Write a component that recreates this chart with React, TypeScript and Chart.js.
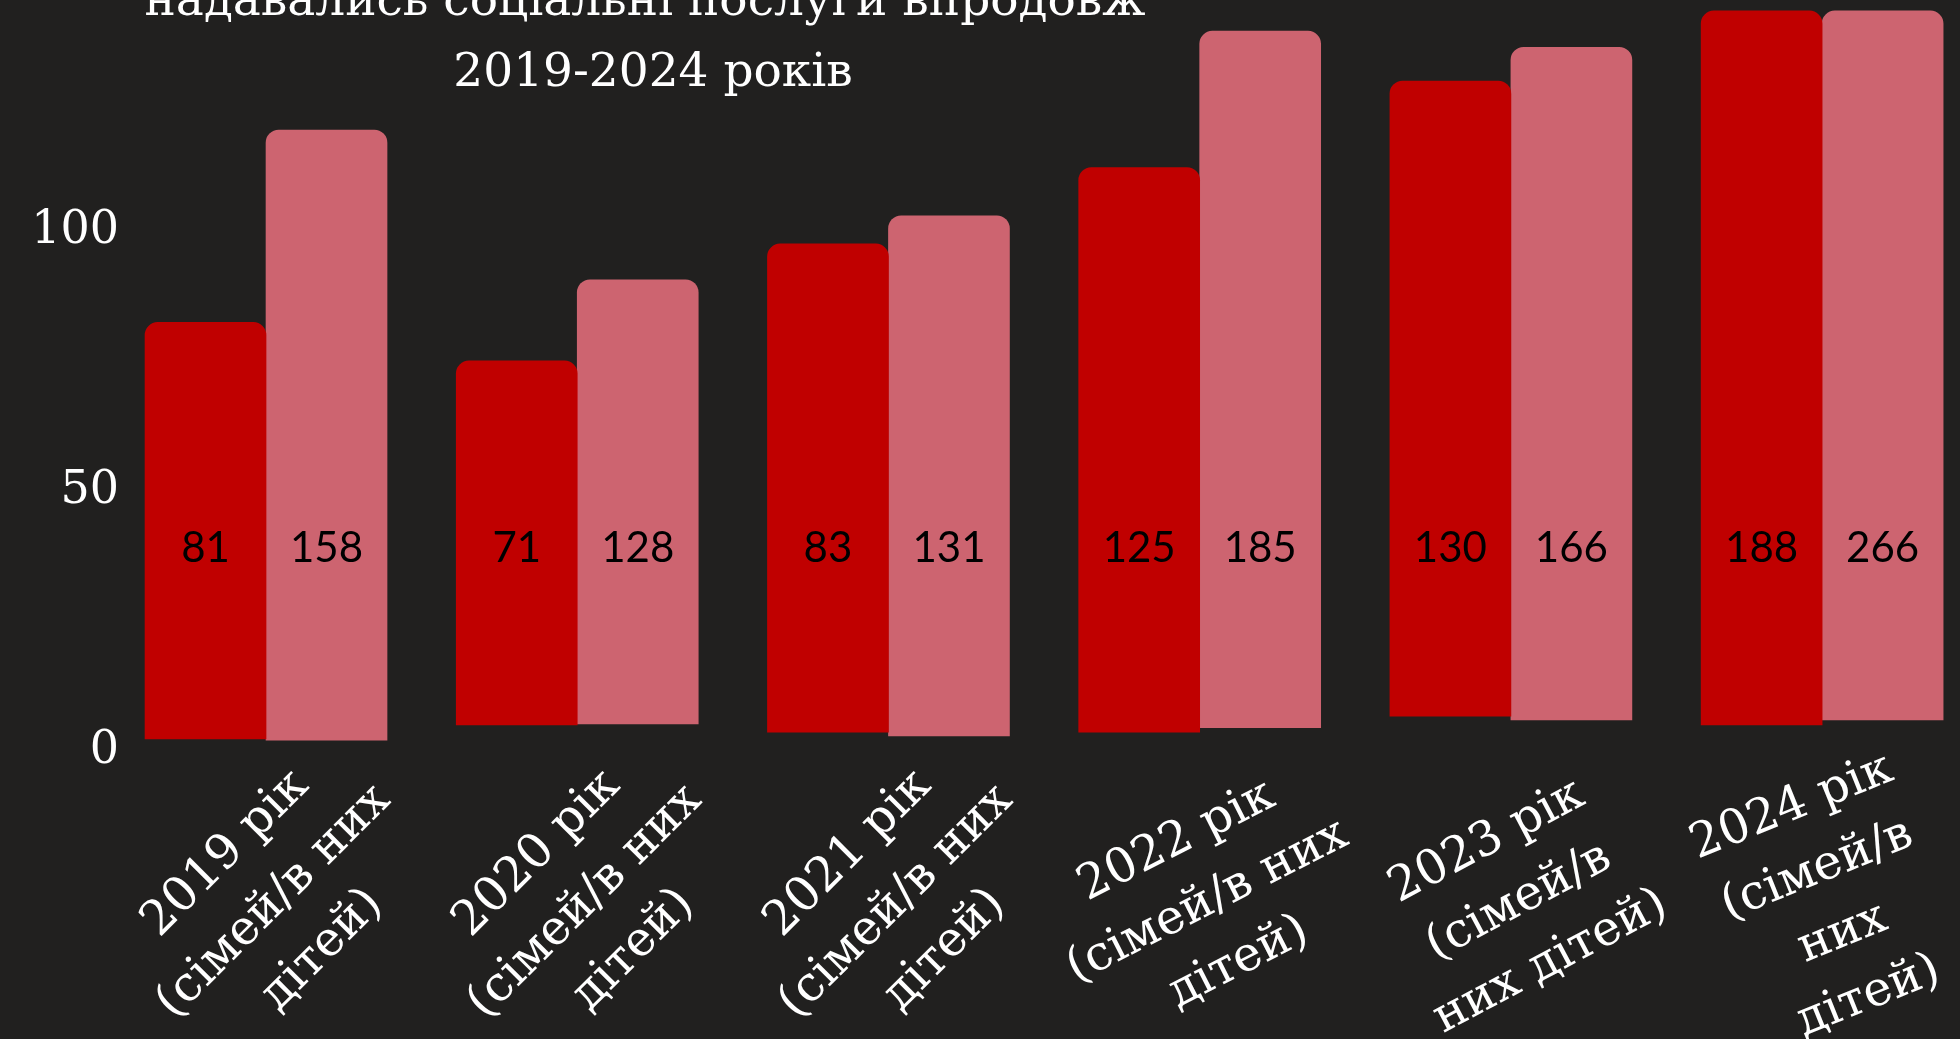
import React, { useEffect, useRef } from "react";
import { Chart, registerables } from "chart.js";

Chart.register(...registerables);

// ---- data ----
const years = ["2019", "2020", "2021", "2022", "2023", "2024"];
const categoryLabels: string[][] = [
  ["2019 рік", "(сімей/в них", "дітей)"],
  ["2020 рік", "(сімей/в них", "дітей)"],
  ["2021 рік", "(сімей/в них", "дітей)"],
  ["2022 рік", "(сімей/в них", "дітей)"],
  ["2023 рік", "(сімей/в", "них дітей)"],
  ["2024 рік", "(сімей/в", "них", "дітей)"],
];
// bar extents as drawn in the picture (axis units)
const familiesTop = [82.4, 75.0, 97.5, 112.2, 128.8, 142.3];
const familiesBottom = [2.3, 5.0, 3.6, 3.6, 6.7, 5.0];
const childrenTop = [119.4, 90.6, 102.9, 138.4, 135.3, 142.3];
const childrenBottom = [2.1, 5.2, 2.9, 4.5, 6.0, 6.0];
// numbers written on the bars
const familiesValues = [81, 71, 83, 125, 130, 188];
const childrenValues = [158, 128, 131, 185, 166, 266];
const yTicks = [0, 50, 100];
const titleLines = ["надавались соціальні послуги впродовж", "2019-2024 років"];

// ---- styles ----
const BG = "#21201F";
const DARK = "#C00000";
const LIGHT = "#CD6470";
const labelAngles = [45, 45, 45, 27, 28, 22];
const SERIF = "'DejaVu Serif', serif";

const titlePlugin = {
  id: "titleText",
  afterDraw(chart: any) {
    const ctx = chart.ctx;
    ctx.save();
    ctx.fillStyle = "#FFFFFF";
    ctx.font = `47px ${SERIF}`;
    ctx.textAlign = "center";
    ctx.textBaseline = "alphabetic";
    ctx.fillText(titleLines[0], 645, 15);
    ctx.fillText(titleLines[1], 653, 86);
    ctx.restore();
  },
};

const valueLabelPlugin = {
  id: "valueLabels",
  afterDatasetsDraw(chart: any) {
    const ctx = chart.ctx;
    const yScale = chart.scales.y;
    const y = yScale.getPixelForValue(39);
    const sets = [familiesValues, childrenValues];
    ctx.save();
    ctx.fillStyle = "#000000";
    ctx.font = "42px Lato, sans-serif";
    ctx.textAlign = "center";
    ctx.textBaseline = "middle";
    sets.forEach((vals, di) => {
      const meta = chart.getDatasetMeta(di);
      meta.data.forEach((el: any, i: number) => {
        ctx.fillText(String(vals[i]), el.x, y);
      });
    });
    ctx.restore();
  },
};

const xLabelPlugin = {
  id: "xLabels",
  afterDraw(chart: any) {
    const ctx = chart.ctx;
    const xScale = chart.scales.x;
    const lineH = 68;
    ctx.save();
    ctx.fillStyle = "#FFFFFF";
    ctx.font = `48px ${SERIF}`;
    ctx.textAlign = "center";
    ctx.textBaseline = "middle";
    categoryLabels.forEach((lines, i) => {
      const cx = xScale.getPixelForValue(i) + 8;
      const cy = 902;
      ctx.save();
      ctx.translate(cx, cy);
      ctx.rotate((-labelAngles[i] * Math.PI) / 180);
      const n = lines.length;
      lines.forEach((line, k) => {
        ctx.fillText(line, 0, (k - (n - 1) / 2) * lineH);
      });
      ctx.restore();
    });
    ctx.restore();
  },
};

export default function App() {
  const canvasRef = useRef<HTMLCanvasElement | null>(null);

  useEffect(() => {
    if (!canvasRef.current) return;
    const chart = new Chart(canvasRef.current, {
      type: "bar",
      data: {
        datasets: [
          {
            label: "сімей",
            data: years.map((_, i) => ({ x: i, y: [familiesBottom[i], familiesTop[i]] })) as any,
            backgroundColor: DARK,
            barThickness: 121,
            borderRadius: { topLeft: 13, topRight: 13, bottomLeft: 0, bottomRight: 0 },
            borderSkipped: false,
          },
          {
            label: "дітей",
            data: years.map((_, i) => ({ x: i, y: [childrenBottom[i], childrenTop[i]] })) as any,
            backgroundColor: LIGHT,
            barThickness: 121,
            borderRadius: { topLeft: 13, topRight: 13, bottomLeft: 0, bottomRight: 0 },
            borderSkipped: false,
          },
        ],
      },
      options: {
        animation: false,
        responsive: true,
        maintainAspectRatio: false,
        layout: { padding: 0 },
        plugins: {
          legend: { display: false },
          tooltip: { enabled: false },
          title: { display: false },
        },
        scales: {
          x: {
            type: "linear",
            min: -0.421,
            max: 5.443,
            offset: false,
            grid: { display: false, drawTicks: false },
            border: { display: false },
            ticks: { display: false },
            afterFit: (scale: any) => {
              scale.height = 288;
              scale.paddingLeft = 0;
              scale.paddingRight = 0;
              scale.paddingTop = 0;
              scale.paddingBottom = 0;
            },
          },
          y: {
            min: 0,
            max: 144.4,
            grid: { display: false, drawTicks: false, tickLength: 0 },
            border: { display: false },
            ticks: {
              color: "#FFFFFF",
              font: { family: SERIF, size: 46 },
              padding: 16,
            },
            afterBuildTicks: (scale: any) => {
              scale.ticks = yTicks.map((v) => ({ value: v }));
            },
            afterFit: (scale: any) => {
              scale.width = 135;
              scale.paddingTop = 0;
              scale.paddingBottom = 0;
              scale.paddingLeft = 0;
              scale.paddingRight = 0;
            },
          },
        },
      },
      plugins: [valueLabelPlugin, titlePlugin, xLabelPlugin],
    });
    return () => chart.destroy();
  }, []);

  return (
    <div
      style={{
        position: "fixed",
        left: 0,
        top: 0,
        width: "1960px",
        height: "1039px",
        background: BG,
      }}
    >
      <canvas ref={canvasRef} />
    </div>
  );
}
